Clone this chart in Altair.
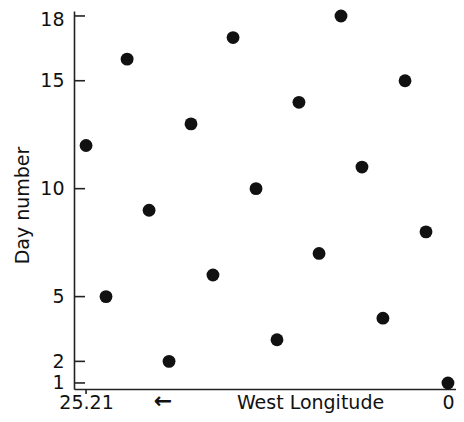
import altair as alt
import pandas as pd

# Data
days = [12, 5, 16, 9, 2, 13, 6, 17, 10, 3, 14, 7, 18, 11, 4, 15, 8, 1]
longitude = [25.21, 23.82, 22.35, 20.82, 19.43, 17.90, 16.37, 14.97, 13.37,
             11.91, 10.38, 8.98, 7.45, 5.99, 4.53, 2.99, 1.53, 0.0]
y_ticks = [1, 2, 5, 10, 15, 18]
x_ticks = [25.21, 0]

df = pd.DataFrame({"lon": longitude, "day": days})
ytick_df = pd.DataFrame({"day": y_ticks})
xtick_df = pd.DataFrame({"lon": [25.21]})

FONT = "DejaVu Sans"
W, H = 382, 378

xscale = alt.Scale(domain=[-0.56, 26.05], reverse=True, nice=False, zero=False)
yscale = alt.Scale(domain=[0.72, 18.23], nice=False, zero=False)

points = alt.Chart(df).mark_point(filled=True, color="#111111", opacity=1, size=165).encode(
    x=alt.X("lon:Q", scale=xscale,
            axis=alt.Axis(values=x_ticks, tickSize=0, grid=False, domainColor="#222222",
                          domainWidth=1.6, labelFont=FONT, labelFontSize=19,
                          labelColor="#111111", labelPadding=19, labelFlush=False,
                          labelBaseline="alphabetic",
                          labelExpr="datum.value == 0 ? '0' : format(datum.value, '.2f')",
                          title="West Longitude", titleFont=FONT, titleFontSize=19,
                          titleFontWeight="normal", titleColor="#111111",
                          titleX=236, titleY=19, titleAlign="center",
                          titleBaseline="alphabetic")),
    y=alt.Y("day:Q", scale=yscale,
            axis=alt.Axis(values=y_ticks, tickSize=0, grid=False, domainColor="#222222",
                          domainWidth=1.6, labelFont=FONT, labelFontSize=19,
                          labelColor="#111111", labelPadding=10, labelFlush=False,
                          labelOffset={"condition": {"test": "datum.value == 18", "value": 4},
                                       "value": 0},
                          title="Day number", titleFont=FONT, titleFontSize=19,
                          titleFontWeight="normal", titleColor="#111111",
                          titleX=-52, titleY=194, titleAlign="center",
                          titleBaseline="middle", titleAngle=-90)),
)

yticks = alt.Chart(ytick_df).mark_rule(color="#222222", strokeWidth=1.6).encode(
    y=alt.Y("day:Q", scale=yscale),
    x=alt.value(0),
    x2=alt.value(11),
)

xtick = alt.Chart(xtick_df).mark_rule(color="#222222", strokeWidth=1.6).encode(
    x=alt.X("lon:Q", scale=xscale),
    y=alt.value(H),
    y2=alt.value(H + 5),
)

arrow = alt.Chart(pd.DataFrame({"t": ["←"]})).mark_text(
    font="DejaVu Sans", fontSize=22, fontWeight="bold", color="#111111",
    align="center", baseline="middle",
).encode(text="t:N", x=alt.value(89), y=alt.value(H + 12))

chart = (
    alt.layer(points, yticks, xtick, arrow)
    .properties(
        width=W, height=H,
        background="white",
        autosize=alt.AutoSizeParams(type="none"),
        padding={"left": 66, "top": 3, "right": 0, "bottom": 25},
    )
    .configure_view(stroke="transparent", strokeWidth=0)
    .configure_axis(grid=False)
)

chart.save("out.html", embed_options={"renderer": "svg", "actions": False})
